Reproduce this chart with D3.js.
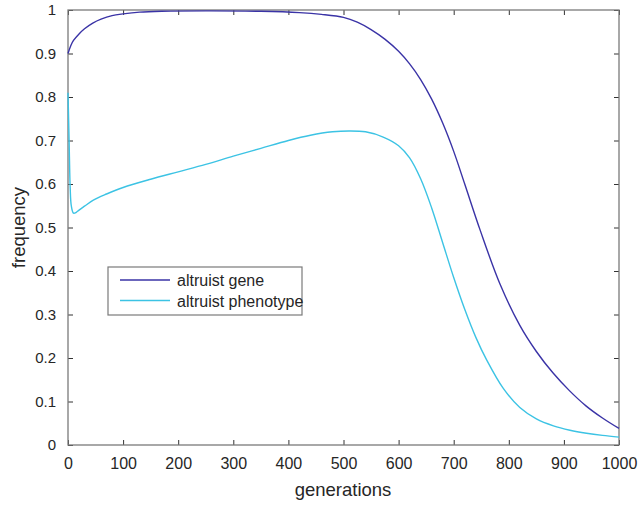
<!DOCTYPE html>
<html>
<head>
<meta charset="utf-8">
<script src="https://cdn.jsdelivr.net/npm/d3@7"></script>
<style>
  html, body { margin: 0; padding: 0; background: #fff; }
  svg { display: block; }
  text { font-family: "Liberation Sans", Arial, Helvetica, sans-serif; fill: #262626; }
</style>
</head>
<body>
<svg id="chart" width="638" height="508"></svg>
<script>
// Altruist gene frequency over generations
const geneGen = [0, 5, 10, 20, 30, 45, 60, 80, 100, 130, 170, 250, 350, 420, 460, 500, 525, 550, 575, 600, 620, 640, 660, 680, 700, 720, 748, 784, 820, 850, 880, 910, 940, 970, 1000];
const geneFreq = [0.900, 0.918, 0.930, 0.945, 0.957, 0.970, 0.979, 0.987, 0.991, 0.995, 0.997, 0.998, 0.997, 0.994, 0.990, 0.983, 0.972, 0.955, 0.933, 0.905, 0.876, 0.840, 0.795, 0.740, 0.675, 0.600, 0.494, 0.370, 0.275, 0.215, 0.166, 0.125, 0.090, 0.062, 0.038];

// Altruist phenotype frequency over generations
const phenGen = [0, 2, 4, 6, 10, 15, 20, 30, 46, 70, 100, 150, 200, 250, 300, 350, 400, 440, 480, 510, 540, 572, 600, 620, 640, 660, 680, 700, 720, 740, 760, 790, 820, 850, 881, 911, 941, 970, 1000];
const phenFreq = [0.810, 0.700, 0.590, 0.550, 0.533, 0.535, 0.540, 0.549, 0.563, 0.577, 0.592, 0.611, 0.628, 0.645, 0.664, 0.682, 0.700, 0.712, 0.720, 0.722, 0.720, 0.708, 0.688, 0.660, 0.612, 0.545, 0.465, 0.385, 0.312, 0.248, 0.195, 0.130, 0.086, 0.060, 0.044, 0.034, 0.027, 0.022, 0.018];

const seriesNames = ["altruist gene", "altruist phenotype"];
const seriesColors = ["#3a33a6", "#3cc3e4"];

const xTicks = [0, 100, 200, 300, 400, 500, 600, 700, 800, 900, 1000];
const yTicks = [0, 0.1, 0.2, 0.3, 0.4, 0.5, 0.6, 0.7, 0.8, 0.9, 1];

const svg = d3.select("#chart");
const L = 68, R = 619, T = 10, B = 445;

const x = d3.scaleLinear().domain([0, 1000]).range([L, R]);
const y = d3.scaleLinear().domain([0, 1]).range([B, T]);

const axisColor = "#7a7a7a";
const tickLen = 5;

// bottom axis with labels, ticks pointing inward
const gx = svg.append("g").attr("transform", `translate(0,${B})`)
  .call(d3.axisBottom(x).tickValues(xTicks).tickSizeInner(-tickLen).tickSizeOuter(0).tickPadding(13).tickFormat(d3.format("d")));
// left axis with labels
const gy = svg.append("g").attr("transform", `translate(${L},0)`)
  .call(d3.axisLeft(y).tickValues(yTicks).tickSizeInner(-tickLen).tickSizeOuter(0).tickPadding(12).tickFormat(d => d === 0 || d === 1 ? String(d) : d3.format(".1f")(d)));
// top and right ticks closing the box
const gt = svg.append("g").attr("transform", `translate(0,${T})`)
  .call(d3.axisTop(x).tickValues(xTicks).tickSizeInner(-tickLen).tickSizeOuter(0).tickFormat(""));
const gr = svg.append("g").attr("transform", `translate(${R},0)`)
  .call(d3.axisRight(y).tickValues(yTicks).tickSizeInner(-tickLen).tickSizeOuter(0).tickFormat(""));

[gx, gy, gt, gr].forEach(g => {
  g.select(".domain").remove();
  g.selectAll(".tick line").attr("stroke", "#333").attr("stroke-width", 1);
  g.selectAll(".tick text").attr("fill", "#262626")
    .style("font-family", '"Liberation Sans", Arial, sans-serif');
});
gx.selectAll(".tick text").style("font-size", "16px");
gy.selectAll(".tick text").style("font-size", "15px");

// frame
svg.append("rect")
  .attr("x", L).attr("y", T).attr("width", R - L).attr("height", B - T)
  .attr("fill", "none").attr("stroke", axisColor).attr("stroke-width", 1.3);

const line = d3.line().x(d => x(d[0])).y(d => y(d[1])).curve(d3.curveCatmullRom.alpha(0.5));

const seriesData = [
  d3.zip(geneGen, geneFreq),
  d3.zip(phenGen, phenFreq)
];

svg.append("g").selectAll("path").data(seriesData).join("path")
  .attr("d", line)
  .attr("fill", "none")
  .attr("stroke", (d, i) => seriesColors[i])
  .attr("stroke-width", 1.4);

// axis titles
svg.append("text").attr("x", 343).attr("y", 496)
  .attr("text-anchor", "middle").style("font-size", "18.5px").text("generations");
svg.append("text")
  .attr("transform", `translate(25,${(T + B) / 2}) rotate(-90)`)
  .attr("text-anchor", "middle").style("font-size", "18.5px").text("frequency");

// legend
const leg = svg.append("g");
leg.append("rect").attr("x", 108).attr("y", 267).attr("width", 194).attr("height", 48)
  .attr("fill", "#fff").attr("stroke", axisColor).attr("stroke-width", 1.2);
seriesNames.forEach((name, i) => {
  const ly = 280 + i * 20.5;
  leg.append("line").attr("x1", 120).attr("x2", 170).attr("y1", ly).attr("y2", ly)
    .attr("stroke", seriesColors[i]).attr("stroke-width", 1.4);
  leg.append("text").attr("x", 177).attr("y", ly + 6).style("font-size", "16px").text(name);
});
</script>
</body>
</html>
